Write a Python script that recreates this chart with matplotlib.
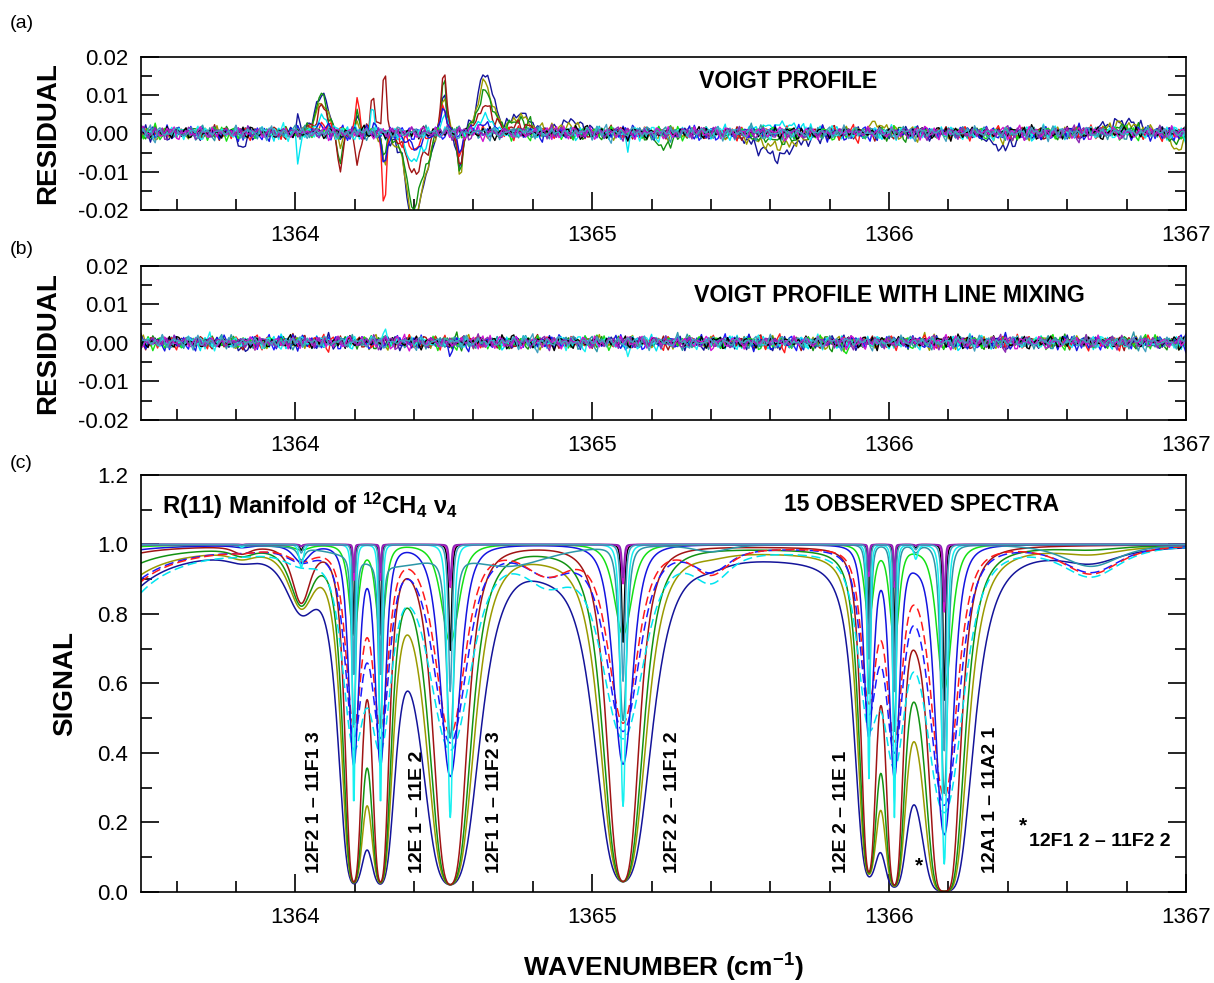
import numpy as np
import matplotlib
matplotlib.use("Agg")
import matplotlib.pyplot as plt

plt.rcParams['font.family'] = ['Liberation Sans', 'DejaVu Sans']
plt.rcParams['mathtext.fontset'] = 'custom'
plt.rcParams['mathtext.rm'] = 'Liberation Sans'
plt.rcParams['mathtext.bf'] = 'Liberation Sans:bold'

# --- line list of the R(11) manifold (positions in cm-1, relative strength, width factor)
line_pos = [1363.82, 1364.02, 1364.197, 1364.287, 1364.522, 1365.104, 1365.932, 1366.018, 1366.09, 1366.186]
line_str = [0.006, 0.05, 1.0, 1.0, 1.1, 1.0, 0.8, 1.1, 0.03, 1.8]
line_wid = [1.0, 1.0, 0.536, 0.536, 1.0, 1.0, 0.53, 0.53, 1.0, 0.8]

# --- 15 observed spectra: peak absorbance scale, width (cm-1), colour, style
spec_depth = [3.5, 3.5, 3.5, 3.5, 0.8, 0.76, 0.71, 1.0, 0.3, 0.7, 1.4, 0.33, 0.12, 0.1, 0.5]
spec_width = [0.09, 0.0733, 0.0644, 0.052, 0.105, 0.085, 0.076, 0.048, 0.05, 0.02, 0.012, 0.008, 0.008, 0.006, 0.01]
spec_color = ['#14149a', '#9a9a00', '#129212', '#a01414', '#00e4f0', '#1a1aff', '#ff1a1a', '#1414e0',
              '#14e014', '#2c96a8', '#16f0f0', '#000000', '#d014d0', '#8c28b4', '#40a0c0']
spec_style = ['-', '-', '-', '-', '--', '--', '--', '-', '-', '-', '-', '-', '-', '-', '-']

# --- broad background features (position, width, shape power) and amplitude per spectrum
bg_pos = [1363.28, 1364.32, 1364.72, 1364.85, 1365.40, 1366.68, 1365.8]
bg_wid = [0.13, 0.25, 0.25, 0.14, 0.11, 0.17, 0.9]
bg_pow = [1, 2, 2, 2, 2, 2, 2]
bg_amp = [
    [0.42, 0, 0, 0.03, 0.02, 0.04, 0.035],
    [0.30, 0, 0, 0.015, 0.01, 0.02, 0.02],
    [0.18, 0, 0, 0.005, 0, 0.01, 0.01],
    [0.08, 0, 0, 0, 0, 0, 0.005],
    [0.50, 0, 0, 0.10, 0.09, 0.09, 0.02],
    [0.35, 0, 0, 0.08, 0.07, 0.08, 0.01],
    [0.38, 0, 0, 0.085, 0.08, 0.085, 0.01],
    [0.05, 0, 0, 0, 0, 0, 0],
    [0.02, 0, 0, 0, 0, 0, 0],
    [0, 0.06, 0.06, 0, 0.02, 0.065, 0],
    [0, 0, 0, 0, 0, 0, 0],
    [0, 0, 0, 0, 0, 0, 0],
    [0, 0, 0, 0, 0, 0, 0],
    [0, 0, 0, 0, 0, 0, 0],
    [0, 0, 0, 0, 0, 0, 0],
]
wing_frac = 0.03

# --- residual structures, Voigt fit (a): bump positions/widths and amplitudes (x 0.001)
res_a_pos = [1363.82, 1364.01, 1364.09, 1364.15, 1364.21, 1364.26, 1364.30, 1364.40, 1364.445, 1364.50,
             1364.555, 1364.64, 1364.76, 1364.93, 1365.12, 1365.24, 1365.62, 1365.95, 1366.38, 1366.78, 1366.97]
res_a_wid = [0.03, 0.008, 0.035, 0.015, 0.012, 0.008, 0.01, 0.045, 0.015, 0.016,
             0.015, 0.045, 0.05, 0.06, 0.01, 0.05, 0.12, 0.05, 0.08, 0.1, 0.03]
res_a_amp = {
    0: [-4, 5, 11, -3, 4, 0, -10, -25, -5, 11, -12, 16, 5, 3, 0, 0, -6, 0, -4, 3, 0],
    1: [0, 0, 8, -3, 3, 0, -9, -24, -5, 12, -11, 13, 4, 2, 0, -1, -3.5, 2.5, -1, 2, -5],
    2: [0, 0, 10, -9, 5, 0, -6, -20, -4, 14, -11, 11, 3, 0, 0, -4, -2, 0, 0, 1, -3],
    3: [0, 0, 7, -11, -9, 15, 20, -11, -3, 17, -10, 7, 2, 0, 0, 0, 0, 0, 0, 0, 0],
    4: [0, -9, 4, 0, 0, 9, 0, -8, 0, 5, 0, 4, 0, 0, -5, 0, 2, 0, 0, 0, 0],
    6: [0, 0, 2, 0, 9, 0, -22, -4, 0, 8, -6, 0, 0, 0, 0, 0, 0, 0, 0, 0, 0],
    7: [0, 0, 2, 0, 0, 4, -11, -4, 0, 7, -5, 2, 0, 0, 0, 0, 0, 0, 0, 0, 0],
}
# --- residual structures, line mixing fit (b)
res_b_pos = [1363.82, 1364.30, 1364.52, 1364.57, 1365.12, 1365.60, 1365.85]
res_b_wid = [0.02, 0.008, 0.015, 0.012, 0.01, 0.04, 0.02]
res_b_amp = {
    0: [-2.5, 0, -1.5, 0, 0, -1.5, 0],
    3: [0, 0, 0, 2.5, 0, 0, 0],
    7: [0, 0, -2.5, 0, 0, 0, -1.5],
    10: [0, 4, 0, 0, -3, 0, 0],
    8: [0, 0, 0, 0, 0, 0, -2.5],
}

# typed noise patterns (units of 0.001)
noise1 = [0.4, -0.7, 0.9, 0.1, -1.0, 0.5, -0.3, 1.0, -0.6, 0.2, 0.8, -0.5, -0.9, 0.6, 0.1, -0.4,
          0.9, -0.8, 0.3, 0.0, -0.2, 1.0, -0.7, 0.5, -0.1, -0.9, 0.7, 0.2, -0.6, 0.9, -1.0, 0.3,
          0.5, -0.6, 0.8, -0.3, -0.5, 1.0, -0.4, 0.1, 0.7, -0.9, 0.3, 0.6, -0.8, 0.2, 0.9, -0.2,
          -0.7, 0.4, -0.1, 1.0, -0.9, 0.5, 0.0, -0.6, 0.8, -0.4, 0.7, -1.0, 0.2, 0.6, -0.5, 0.3]
noise2 = [-0.5, 0.3, 0.8, -0.2, -0.9, 0.6, 0.1, -0.7, 0.9, -0.3, 0.4, -0.8, 0.2, 0.7, -0.6, -0.1,
          1.0, -0.4, 0.3, -0.9, 0.5, 0.2, -0.5, 0.8, -0.2, -0.7, 0.6, 0.0, -0.3, 0.9, -0.8, 0.4,
          0.1, -0.6, 0.7, -0.1, -0.4, 0.8, -0.9, 0.3, 0.5, -0.2, 0.6, -0.7, 0.2, 0.9, -0.5]

x_lo, x_hi = 1363.48, 1367.0


def prof(x, c, w, p):
    return 1.0 / (1.0 + ((x - c) / w) ** 2) ** p


def spectrum(x, j):
    a = np.zeros_like(x)
    for c, s, f in zip(line_pos, line_str, line_wid):
        g = spec_width[j] * f
        a += s * spec_depth[j] * ((1 - wing_frac) * prof(x, c, g, 2) + wing_frac * prof(x, c, g, 1))
    for c, w, p, amp in zip(bg_pos, bg_wid, bg_pow, bg_amp[j]):
        a += amp * prof(x, c, w, p)
    return np.exp(-a)


def residual(x, j, pos, wid, amps, shift):
    i = np.arange(len(x))
    raw = (np.array(noise1)[(i + 5 * j + shift) % len(noise1)]
           + 0.7 * np.array(noise2)[(i + 13 * j + shift) % len(noise2)])
    # light smoothing so the noise wiggles look like the recorded ones
    r = 0.0038 * np.convolve(raw, [0.25, 0.5, 0.25], mode='same')
    if j in amps:
        for c, w, amp in zip(pos, wid, amps[j]):
            r += 0.001 * amp * prof(x, c, w, 2)
    return r


xs = np.arange(x_lo, x_hi + 0.001, 0.002)
xr = np.arange(x_lo, x_hi + 0.001, 0.008)

fig = plt.figure(figsize=(12.14, 9.83), dpi=100)
ax_a = fig.add_axes([0.1161, 0.7864, 0.8608, 0.1556])
ax_b = fig.add_axes([0.1161, 0.5728, 0.8608, 0.1567])
ax_c = fig.add_axes([0.1161, 0.0926, 0.8608, 0.4242])

for j in range(15):
    ax_a.plot(xr, residual(xr, j, res_a_pos, res_a_wid, res_a_amp, 0), color=spec_color[j], lw=1.0)
    ax_b.plot(xr, residual(xr, j, res_b_pos, res_b_wid, res_b_amp, 31), color=spec_color[j], lw=1.0)
    ax_c.plot(xs, spectrum(xs, j), color=spec_color[j], lw=1.1, ls=spec_style[j],
              dashes=(6, 3) if spec_style[j] == '--' else (None, None))

for ax in (ax_a, ax_b):
    ax.set_ylim(-0.02, 0.02)
    ax.set_yticks([-0.02, -0.01, 0.0, 0.01, 0.02])
    ax.set_yticklabels(['-0.02', '-0.01', '0.00', '0.01', '0.02'])
    ax.set_yticks([-0.015, -0.005, 0.005, 0.015], minor=True)
    ax.set_ylabel('RESIDUAL', fontsize=20, fontweight='bold', labelpad=12)

ax_c.set_ylim(0, 1.2)
ax_c.set_yticks(np.arange(0, 1.21, 0.2))
ax_c.set_yticklabels(['0.0', '0.2', '0.4', '0.6', '0.8', '1.0', '1.2'])
ax_c.set_yticks(np.arange(0.1, 1.2, 0.2), minor=True)
ax_c.set_ylabel('SIGNAL', fontsize=20, fontweight='bold', labelpad=14)
ax_c.set_xlabel(r'WAVENUMBER (cm$\mathbf{^{-1}}$)', fontsize=19, fontweight='bold', labelpad=17)

for ax in (ax_a, ax_b, ax_c):
    ax.set_xlim(x_lo, x_hi)
    ax.set_xticks([1364, 1365, 1366, 1367])
    ax.set_xticks([1363.6, 1363.8, 1364.2, 1364.4, 1364.6, 1364.8, 1365.2, 1365.4, 1365.6, 1365.8,
                   1366.2, 1366.4, 1366.6, 1366.8], minor=True)
    ax.tick_params(which='both', direction='in', left=True, right=True, top=False, bottom=True,
                   labelsize=16, width=1.2)
    ax.tick_params(which='major', length=13, pad=9)
    ax.tick_params(which='minor', length=8)
    ax.tick_params(axis='x', pad=11)
    for s in ax.spines.values():
        s.set_linewidth(1.2)

ax_a.text(1365.66, 0.0135, 'VOIGT PROFILE', fontsize=16.7, fontweight='bold', ha='center', va='center')
ax_b.text(1366.0, 0.0122, 'VOIGT PROFILE WITH LINE MIXING', fontsize=16.7, fontweight='bold',
          ha='center', va='center')
ax_c.text(1363.55, 1.11, r'R(11) Manifold of $\mathbf{^{12}}$CH$\mathbf{_4}$ ν$\mathbf{_4}$',
          fontsize=17.2, fontweight='bold', ha='left', va='center')
ax_c.text(1366.11, 1.115, '15 OBSERVED SPECTRA', fontsize=16.5, fontweight='bold', ha='center', va='center')

labels = ['12F2 1 – 11F1 3', '12E 1 – 11E 2', '12F1 1 – 11F2 3', '12F2 2 – 11F1 2',
          '12E 2 – 11E 1', '12A1 1 – 11A2 1']
label_x = [1364.063, 1364.41, 1364.67, 1365.27, 1365.84, 1366.34]
for lx, lt in zip(label_x, labels):
    ax_c.text(lx, 0.055, lt, rotation=90, fontsize=14, fontweight='bold', ha='center', va='bottom')
ax_c.text(1366.10, 0.075, '*', fontsize=15, fontweight='bold', ha='center', va='center')
ax_c.text(1366.45, 0.19, '*', fontsize=15, fontweight='bold', ha='center', va='center')
ax_c.text(1366.47, 0.145, '12F1 2 – 11F2 2', fontsize=14, fontweight='bold', ha='left', va='center')

fig.text(0.008, 0.972, '(a)', fontsize=14)
fig.text(0.008, 0.742, '(b)', fontsize=14)
fig.text(0.008, 0.524, '(c)', fontsize=14)

fig.savefig('out.png', dpi=100)
